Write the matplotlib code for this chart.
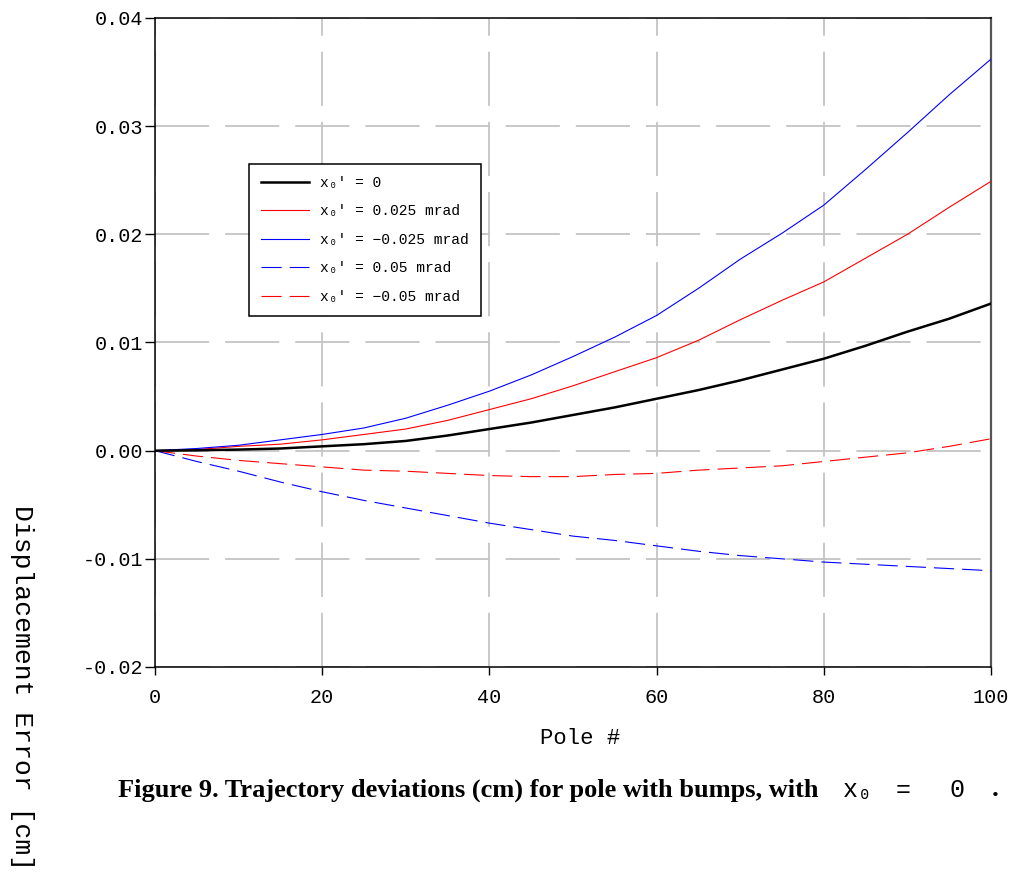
import matplotlib
matplotlib.use("Agg")
import matplotlib.pyplot as plt

# pole number and displacement error [cm]
pole = [0, 5, 10, 15, 20, 25, 30, 35, 40, 45, 50, 55, 60, 65, 70, 75, 80, 85, 90, 95, 100]
err_zero = [0.0, 0.00003, 0.0001, 0.0002, 0.0004, 0.0006, 0.0009, 0.0014, 0.0020, 0.0026, 0.0033,
            0.0040, 0.0048, 0.0056, 0.0065, 0.0075, 0.0085, 0.0097, 0.0110, 0.0122, 0.0136]
err_p025 = [0.0, 0.0001, 0.0004, 0.0006, 0.0010, 0.0015, 0.0020, 0.0028, 0.0038, 0.0048, 0.0060,
            0.0073, 0.0086, 0.0102, 0.0121, 0.0139, 0.0156, 0.0178, 0.0200, 0.0225, 0.0249]
err_m025 = [0.0, 0.0002, 0.0005, 0.0010, 0.0015, 0.0021, 0.0030, 0.0042, 0.0055, 0.0070, 0.0087,
            0.0105, 0.0125, 0.0150, 0.0177, 0.0201, 0.0227, 0.0260, 0.0294, 0.0329, 0.0362]
err_p05 = [0.0, -0.0010, -0.0019, -0.0029, -0.0038, -0.0046, -0.0053, -0.0060, -0.0067, -0.0073, -0.0079,
           -0.0083, -0.0088, -0.0093, -0.0097, -0.0100, -0.0103, -0.0105, -0.0107, -0.0109, -0.0111]
err_m05 = [0.0, -0.0005, -0.0009, -0.0012, -0.0015, -0.0018, -0.0019, -0.0021, -0.0023, -0.0024, -0.0024,
           -0.0022, -0.0021, -0.0018, -0.0016, -0.0014, -0.0010, -0.0006, -0.0002, 0.0004, 0.0011]

labels = ["x\u2080' = 0", "x\u2080' = 0.025 mrad", "x\u2080' = \u22120.025 mrad",
          "x\u2080' = 0.05 mrad", "x\u2080' = \u22120.05 mrad"]
xticks = [0, 20, 40, 60, 80, 100]
yticks = [-0.02, -0.01, 0.0, 0.01, 0.02, 0.03, 0.04]
ytick_labels = ["-0.02", "-0.01", "0.00", "0.01", "0.02", "0.03", "0.04"]

mono = ["Liberation Mono", "DejaVu Sans Mono"]
plt.rcParams["lines.scale_dashes"] = False

fig = plt.figure(figsize=(10.19, 8.92), dpi=100)
ax = fig.add_axes([155 / 1019, 1 - 667 / 892, 836 / 1019, 649 / 892])

dash = (0, (14.5, 5.8))
ax.plot(pole, err_zero, color="black", lw=1.8, label=labels[0], zorder=5)
ax.plot(pole, err_p025, color="#ff0000", lw=0.8, label=labels[1], zorder=4)
ax.plot(pole, err_m025, color="#0000ff", lw=0.8, label=labels[2], zorder=4)
ax.plot(pole, err_p05, color="#0000ff", lw=0.8, ls=dash, label=labels[3], zorder=4)
ax.plot(pole, err_m05, color="#ff0000", lw=0.8, ls=dash, label=labels[4], zorder=4)

ax.set_xlim(0, 100)
ax.set_ylim(-0.02, 0.04)
ax.set_xticks(xticks)
ax.set_yticks(yticks)
ax.set_xticklabels([str(t) for t in xticks], family=mono, fontsize=14.5)
ax.set_yticklabels(ytick_labels, family=mono, fontsize=14.5)
ax.tick_params(axis="x", direction="out", length=6, width=1, pad=9)
ax.tick_params(axis="y", direction="out", length=7, width=1, pad=1.5)

ax.grid(True, color="#c4c4c4", lw=1.3, ls=(0, (39, 11.5)))
ax.set_axisbelow(True)
for s in ["left", "bottom", "top"]:
    ax.spines[s].set_linewidth(1.1)
    ax.spines[s].set_color("black")
ax.spines["right"].set_linewidth(1.6)
ax.spines["right"].set_color("#555555")

leg = ax.legend(loc="upper left", bbox_to_anchor=((249 - 155) / 836, (667 - 164) / 649),
                prop={"family": mono, "size": 10.5}, frameon=True, fancybox=False,
                handlelength=3.3, handletextpad=0.8, labelspacing=1.0,
                borderpad=0.8, borderaxespad=0)
leg.get_frame().set_edgecolor("black")
leg.get_frame().set_linewidth(1.1)
leg.get_frame().set_alpha(1)

fig.text(580 / 1019, 1 - 738 / 892, "Pole #", family=mono, fontsize=16,
         ha="center", va="center")
fig.text(22 / 1019, 1 - 505 / 892, "Displacement Error [cm]", family=mono,
         fontsize=19, rotation=-90, ha="center", va="top")

cy = 1 - 790 / 892
fig.text(118 / 1019, cy,
         "Figure 9. Trajectory deviations (cm) for pole with bumps, with",
         family="Liberation Serif", weight="bold", fontsize=19,
         ha="left", va="center")
fig.text(843 / 1019, cy, "x\u2080", family=mono, fontsize=18, ha="left", va="center")
fig.text(903 / 1019, cy, "=", family=mono, fontsize=18, ha="center", va="center")
fig.text(957 / 1019, cy, "0", family=mono, fontsize=18, ha="center", va="center")
fig.text(995 / 1019, cy, ".", family="Liberation Serif", weight="bold",
         fontsize=19.5, ha="center", va="center")

fig.savefig("out.png", dpi=100)
